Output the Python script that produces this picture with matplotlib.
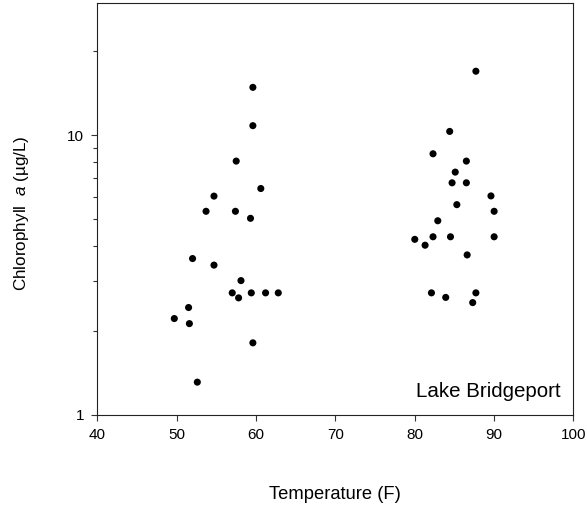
import matplotlib
matplotlib.use("Agg")
import matplotlib.pyplot as plt
from matplotlib.ticker import LogLocator, FixedLocator, NullFormatter, FixedFormatter

plt.rcParams['font.family'] = ['Liberation Sans', 'DejaVu Sans']
plt.rcParams['mathtext.fontset'] = 'custom'
plt.rcParams['mathtext.rm'] = 'Liberation Sans'
plt.rcParams['mathtext.it'] = 'Liberation Sans:italic'

# Temperature (F) and chlorophyll a (ug/L) samples, cool-season cluster
temp_cool = [59.6, 59.6, 57.5, 60.6, 54.7, 53.7, 57.4, 59.3, 52.0, 54.7, 58.1,
             57.0, 57.8, 59.4, 61.2, 62.8, 51.5, 49.7, 51.6, 59.6, 52.6]
chl_cool = [14.8, 10.8, 8.07, 6.44, 6.05, 5.34, 5.34, 5.04, 3.62, 3.43, 3.02,
            2.73, 2.62, 2.73, 2.73, 2.73, 2.42, 2.21, 2.12, 1.81, 1.31]

# warm-season cluster
temp_warm = [87.7, 84.4, 82.3, 86.5, 85.1, 84.7, 86.5, 89.6, 90.0, 85.3, 82.9,
             80.0, 81.3, 82.3, 84.5, 90.0, 86.6, 82.1, 83.9, 87.7, 87.3]
chl_warm = [16.9, 10.3, 8.57, 8.07, 7.37, 6.75, 6.75, 6.06, 5.34, 5.64, 4.94,
            4.24, 4.04, 4.33, 4.33, 4.33, 3.73, 2.73, 2.63, 2.73, 2.52]

x_ticks = [40, 50, 60, 70, 80, 90, 100]
y_major = [1, 10]

fig = plt.figure(figsize=(5.87, 5.12), dpi=100)
ax = fig.add_axes([0.1658, 0.1895, 0.8112, 0.8037])

ax.scatter(temp_cool + temp_warm, chl_cool + chl_warm, s=26, color='black',
           edgecolors='none', zorder=3)

ax.set_yscale('log')
ax.set_xlim(40, 100)
ax.set_ylim(1, 29.5)

ax.xaxis.set_major_locator(FixedLocator(x_ticks))
ax.set_xticklabels([str(t) for t in x_ticks])
ax.xaxis.set_minor_locator(FixedLocator([]))

ax.yaxis.set_major_locator(FixedLocator(y_major))
ax.yaxis.set_major_formatter(FixedFormatter([str(t) for t in y_major]))
ax.yaxis.set_minor_locator(LogLocator(base=10, subs=range(2, 10)))
ax.yaxis.set_minor_formatter(NullFormatter())

ax.tick_params(axis='both', which='major', direction='out', length=4.5,
               width=0.8, labelsize=11, color='#333333', pad=5)
ax.tick_params(axis='y', which='minor', direction='out', length=3,
               width=0.8, color='#333333')
ax.tick_params(top=False, right=False, which='both')

for sp in ax.spines.values():
    sp.set_linewidth(0.8)
    sp.set_color('#222222')

ax.set_xlabel('Temperature (F)', fontsize=13.2)
ax.xaxis.set_label_coords(0.5, -0.193)
ax.xaxis.label.set_va('center')
ax.set_ylabel('Chlorophyll  $\\it{a}$ (µg/L)', fontsize=12.3)
ax.yaxis.set_label_coords(-0.159, 0.49)
ax.yaxis.label.set_va('center')

ax.text(0.974, 0.043, 'Lake Bridgeport', transform=ax.transAxes,
        ha='right', va='baseline', fontsize=14.8)

fig.savefig('out.png', dpi=100)
